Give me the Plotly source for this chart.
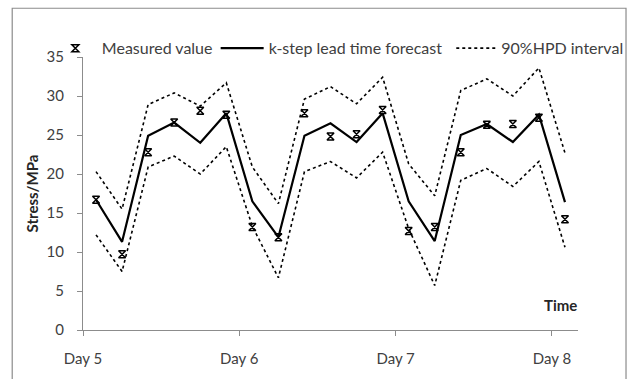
import plotly.graph_objects as go

# ---- data ----
time_hours = [2, 6, 10, 14, 18, 22, 26, 30, 34, 38, 42, 46, 50, 54, 58, 62, 66, 70, 74]
measured = [16.7, 9.7, 22.8, 26.6, 28.1, 27.6, 13.2, 11.9, 27.8, 24.8, 25.1, 28.2,
            12.7, 13.2, 22.8, 26.3, 26.4, 27.2, 14.2]
forecast = [16.7, 11.3, 24.9, 26.6, 24.0, 27.8, 16.5, 11.9, 24.9, 26.5, 24.1, 27.8,
            16.5, 11.4, 25.0, 26.4, 24.1, 27.6, 16.4]
hpd_upper = [20.3, 15.5, 28.9, 30.4, 28.7, 31.7, 20.9, 16.2, 29.6, 31.2, 29.0, 32.4,
             21.3, 17.2, 30.7, 32.2, 30.0, 33.6, 22.7]
hpd_lower = [12.2, 7.5, 20.9, 22.3, 20.0, 23.5, 13.3, 6.7, 20.3, 21.6, 19.5, 22.8,
             13.0, 5.7, 19.2, 20.7, 18.4, 21.6, 10.6]
day_ticks = [0, 24, 48, 72]
day_labels = ["Day 5", "Day 6", "Day 7", "Day 8"]
y_ticks = [0, 5, 10, 15, 20, 25, 30, 35]

FONT = "Lato"
TXT = "#404040"
AX = "#8c8c8c"

fig = go.Figure()

fig.add_trace(go.Scatter(
    x=time_hours, y=hpd_upper, mode="lines", name="90%HPD interval",
    line=dict(color="black", width=1.6, dash="dot"),
    legend="legend3", showlegend=True))
fig.add_trace(go.Scatter(
    x=time_hours, y=hpd_lower, mode="lines", name="90%HPD interval",
    line=dict(color="black", width=1.6, dash="dot"), showlegend=False))
fig.add_trace(go.Scatter(
    x=time_hours, y=forecast, mode="lines", name="k-step lead time forecast",
    line=dict(color="black", width=2.2), legend="legend2"))
fig.add_trace(go.Scatter(
    x=time_hours, y=measured, mode="markers", name="Measured value",
    marker=dict(symbol="hourglass-open", size=7, color="black",
                line=dict(color="black", width=1.5)),
    legend="legend"))

legend_common = dict(orientation="h", yanchor="middle", y=1.032,
                     xanchor="left", bgcolor="rgba(0,0,0,0)",
                     font=dict(family=FONT, size=16, color=TXT),
                     borderwidth=0)

fig.update_layout(
    width=640, height=379, autosize=False,
    margin=dict(l=83, r=57, t=57, b=42),
    paper_bgcolor="white", plot_bgcolor="white",
    font=dict(family=FONT, size=15, color=TXT),
    legend=dict(**legend_common, x=(48.5 - 83) / 500, itemwidth=43),
    legend2=dict(**legend_common, x=(217 - 83) / 500, itemwidth=43),
    legend3=dict(**legend_common, x=(455 - 83) / 500, itemwidth=40),
    xaxis=dict(range=[0, 76], tickmode="array", tickvals=day_ticks, ticktext=day_labels,
               ticks="outside", ticklen=5, tickcolor=AX, showline=True, linecolor=AX,
               linewidth=1, showgrid=False, zeroline=False, ticklabelstandoff=10,
               tickfont=dict(family=FONT, size=15, color=TXT)),
    yaxis=dict(range=[0, 35], tickmode="array", tickvals=y_ticks,
               ticks="outside", ticklen=5, tickcolor=AX, showline=True, linecolor=AX,
               linewidth=1, showgrid=False, zeroline=False, ticklabelstandoff=10,
               tickfont=dict(family=FONT, size=15, color=TXT),
               title=dict(text="<b>Stress/MPa</b>", standoff=4,
                          font=dict(family=FONT, size=15, color="#262626"))),
    shapes=[dict(type="rect", xref="paper", yref="paper",
                 x0=(11.5 - 83) / 500, x1=(631.5 - 83) / 500,
                 y0=-0.2, y1=(337 - 7) / 280,
                 line=dict(color=AX, width=1.2), fillcolor="rgba(0,0,0,0)", layer="below")],
    annotations=[dict(text="<b>Time</b>", xref="paper", yref="paper",
                      x=(565 - 83) / 500, y=(337 - 311) / 280, showarrow=False,
                      xanchor="center", yanchor="middle",
                      font=dict(family=FONT, size=15, color="#262626"))],
)

fig.write_html("out.html")
